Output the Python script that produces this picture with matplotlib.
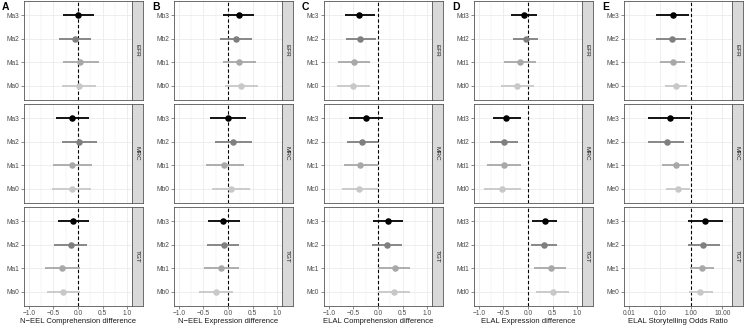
import numpy as np
import matplotlib
matplotlib.use('Agg')
import matplotlib.pyplot as plt
from matplotlib.ticker import FixedLocator

plt.rcParams['font.family'] = ['Liberation Sans', 'DejaVu Sans']

ROWS = ['EFR', 'MRC', 'TGT']
LEVEL_COLS = ['#000000', '#7f7f7f', '#a8a8a8', '#c8c8c8']   # level 3 .. 0

# values listed top-down (level 3, 2, 1, 0) per facet row EFR, MRC, TGT
a_models = ['Ma3', 'Ma2', 'Ma1', 'Ma0']
a_est = [[0.01, -0.06, 0.05, 0.02], [-0.12, 0.03, -0.12, -0.13], [-0.10, -0.15, -0.32, -0.30]]
a_lo = [[-0.31, -0.38, -0.31, -0.33], [-0.45, -0.32, -0.51, -0.52], [-0.40, -0.48, -0.68, -0.64]]
a_hi = [[0.32, 0.27, 0.43, 0.37], [0.23, 0.38, 0.28, 0.26], [0.22, 0.18, 0.04, 0.05]]

b_models = ['Mb3', 'Mb2', 'Mb1', 'Mb0']
b_est = [[0.22, 0.16, 0.23, 0.27], [0.01, 0.11, -0.08, 0.06], [-0.10, -0.09, -0.15, -0.25]]
b_lo = [[-0.10, -0.16, -0.11, -0.06], [-0.36, -0.27, -0.45, -0.33], [-0.41, -0.42, -0.49, -0.60]]
b_hi = [[0.53, 0.49, 0.57, 0.62], [0.37, 0.48, 0.32, 0.45], [0.24, 0.23, 0.22, 0.10]]

c_models = ['Mc3', 'Mc2', 'Mc1', 'Mc0']
c_est = [[-0.38, -0.36, -0.49, -0.51], [-0.25, -0.32, -0.36, -0.38], [0.21, 0.19, 0.34, 0.33]]
c_lo = [[-0.68, -0.66, -0.82, -0.83], [-0.59, -0.64, -0.70, -0.74], [-0.10, -0.12, 0.01, 0.01]]
c_hi = [[-0.07, -0.04, -0.17, -0.17], [0.10, 0.00, -0.01, -0.01], [0.51, 0.49, 0.65, 0.65]]

d_models = ['Md3', 'Md2', 'Md1', 'Md0']
d_est = [[-0.08, -0.05, -0.17, -0.22], [-0.45, -0.48, -0.49, -0.53], [0.34, 0.32, 0.46, 0.51]]
d_lo = [[-0.34, -0.31, -0.49, -0.56], [-0.72, -0.77, -0.84, -0.89], [0.09, 0.06, 0.13, 0.16]]
d_hi = [[0.18, 0.21, 0.16, 0.12], [-0.15, -0.20, -0.14, -0.14], [0.60, 0.60, 0.78, 0.84]]

e_models = ['Me3', 'Me2', 'Me1', 'Me0']
e_est = [[0.25, 0.23, 0.26, 0.32], [0.21, 0.17, 0.32, 0.36], [2.7, 2.4, 2.15, 1.9]]
e_lo = [[0.071, 0.072, 0.10, 0.14], [0.041, 0.041, 0.11, 0.15], [0.78, 0.80, 0.88, 0.84]]
e_hi = [[0.82, 0.67, 0.64, 0.72], [0.89, 0.58, 0.84, 0.93], [10.5, 8.2, 5.5, 4.9]]

PANELS = [
    ('A', a_models, a_est, a_lo, a_hi, 'N\u2212EEL Comprehension difference', False),
    ('B', b_models, b_est, b_lo, b_hi, 'N\u2212EEL Expression difference', False),
    ('C', c_models, c_est, c_lo, c_hi, 'ELAL Comprehension difference', False),
    ('D', d_models, d_est, d_lo, d_hi, 'ELAL Expression difference', False),
    ('E', e_models, e_est, e_lo, e_hi, 'ELAL Storytelling Odds Ratio', True),
]

W, H = 745, 326
ROW_TOP = [1, 104, 207]
ROW_H = 99
GRID = '#ebebeb'
EDGE = '#555555'

fig = plt.figure(figsize=(W / 100, H / 100), dpi=100)

for p, (letter, models, est, lo, hi, xlabel, logx) in enumerate(PANELS):
    x0 = 24 + 150 * p
    for r, facet in enumerate(ROWS):
        bottom = 1 - (ROW_TOP[r] + ROW_H) / H
        ax = fig.add_axes([x0 / W, bottom, 108 / W, ROW_H / H])
        ys = np.arange(len(models), 0, -1)
        if logx:
            ax.set_xscale('log')
            ax.set_xlim(10 ** -2.17, 10 ** 1.31)
            ax.xaxis.set_major_locator(FixedLocator([0.01, 0.1, 1, 10]))
            ax.xaxis.set_minor_locator(FixedLocator([10 ** -1.5, 10 ** -0.5, 10 ** 0.5]))
            ref = 1.0
        else:
            ax.set_xlim(-1.1, 1.1)
            ax.xaxis.set_major_locator(FixedLocator([-1, -0.5, 0, 0.5, 1]))
            ax.xaxis.set_minor_locator(FixedLocator([-0.75, -0.25, 0.25, 0.75]))
            ref = 0.0
        ax.set_ylim(0.4, len(models) + 0.6)
        ax.set_axisbelow(True)
        ax.grid(which='major', color=GRID, lw=0.6)
        ax.grid(which='minor', axis='x', color=GRID, lw=0.3)
        ax.axvline(ref, color='black', ls=(0, (3, 2)), lw=0.8, zorder=2)
        for i, y in enumerate(ys):
            ax.hlines(y, lo[r][i], hi[r][i], color=LEVEL_COLS[i], lw=1.3, zorder=3)
            ax.scatter(est[r][i], y, s=22, color=LEVEL_COLS[i], zorder=4, linewidths=0)
        ax.set_yticks(ys)
        ax.set_yticklabels(models)
        ax.tick_params(axis='y', labelsize=4.8, labelcolor='#4d4d4d', length=2,
                       width=0.4, color='#333333', pad=1.5)
        ax.tick_params(which='minor', length=0)
        if r == len(ROWS) - 1:
            if logx:
                ax.set_xticklabels(['0.01', '0.10', '1.00', '10.00'])
            else:
                ax.set_xticklabels(['\u22121.0', '\u22120.5', '0.0', '0.5', '1.0'])
            ax.tick_params(axis='x', labelsize=4.8, labelcolor='#4d4d4d', length=2,
                           width=0.4, color='#333333', pad=1)
            ax.set_xlabel(xlabel, fontsize=5.5, labelpad=0.8, color='#1a1a1a')
        else:
            ax.tick_params(axis='x', length=0, labelbottom=False)
        for sp in ax.spines.values():
            sp.set_color(EDGE)
            sp.set_linewidth(0.6)

        sx = fig.add_axes([(x0 + 108) / W, bottom, 11 / W, ROW_H / H])
        sx.set_facecolor('#d9d9d9')
        sx.set_xticks([])
        sx.set_yticks([])
        for sp in sx.spines.values():
            sp.set_color(EDGE)
            sp.set_linewidth(0.6)
        sx.text(0.5, 0.5, facet, rotation=270, ha='center', va='center',
                fontsize=4.6, color='#1a1a1a', transform=sx.transAxes)

    fig.text((2 + 150 * p) / W, 1 - 2 / H, letter, fontsize=7.5, fontweight='bold',
             ha='left', va='top')

fig.savefig('out.png', dpi=100)
